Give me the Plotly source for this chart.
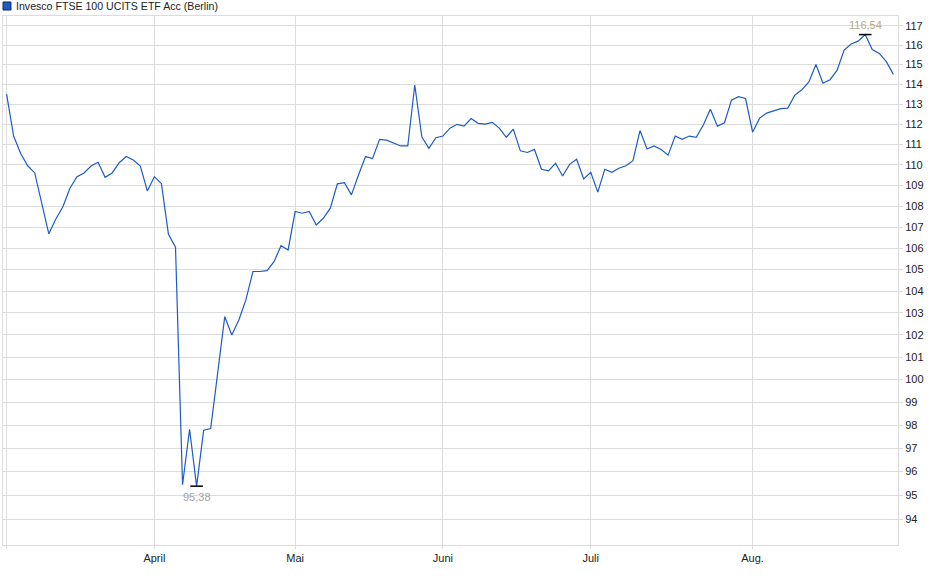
import numpy as np
import pandas as pd
import plotly.graph_objects as go

# trading days on the Berlin exchange, March - August 2025
start_date = "2025-03-03"
end_date = "2025-08-29"
holidays = ["2025-04-18", "2025-04-21", "2025-05-01"]

# closing prices, one per trading day
prices = [
    113.50, 111.41, 110.55, 109.95, 109.60, 108.15, 106.68, 107.38, 107.97, 108.86,
    109.42, 109.60, 109.94, 110.12, 109.39, 109.60, 110.10, 110.40, 110.23, 109.94,
    108.73, 109.42, 109.08, 106.66, 106.05, 95.44, 97.82, 95.38, 97.78, 97.85,
    100.28, 102.83, 102.00, 102.68, 103.60, 104.91, 104.91, 104.95, 105.37, 106.12,
    105.92, 107.74, 107.66, 107.74, 107.10, 107.42, 107.90, 109.07, 109.13, 108.54,
    109.50, 110.40, 110.30, 111.25, 111.21, 111.08, 110.92, 110.92, 113.96, 111.37,
    110.80, 111.33, 111.41, 111.80, 111.99, 111.90, 112.28, 112.04, 112.00, 112.09,
    111.80, 111.35, 111.75, 110.68, 110.60, 110.75, 109.78, 109.70, 110.07, 109.45,
    110.02, 110.27, 109.31, 109.63, 108.67, 109.78, 109.63, 109.83, 109.95, 110.20,
    111.68, 110.77, 110.92, 110.75, 110.47, 111.41, 111.25, 111.41, 111.35, 111.96,
    112.74, 111.90, 112.07, 113.20, 113.37, 113.28, 111.60, 112.30, 112.55, 112.66,
    112.77, 112.80, 113.45, 113.72, 114.12, 115.00, 114.05, 114.23, 114.70, 115.74,
    116.05, 116.20, 116.54, 115.77, 115.57, 115.15, 114.50,
]

month_names = ["April", "Mai", "Juni", "Juli", "Aug."]
y_ticks = list(range(94, 118))

days = pd.bdate_range(start_date, end_date)
days = days[~days.isin(pd.to_datetime(holidays))]
x_labels = [d.strftime("%Y-%m-%d") for d in days]

# first trading day of each month (March has no label)
first_days = pd.Series(days).groupby(days.to_period("M")).first()
tick_vals = [d.strftime("%Y-%m-%d") for d in first_days]
tick_text = [""] + month_names

i_min = int(np.argmin(prices))
i_max = int(np.argmax(prices))

fig = go.Figure()

fig.add_trace(go.Scatter(
    x=x_labels,
    y=prices,
    mode="lines",
    line=dict(color="#1c5cc4", width=1.2),
    showlegend=False,
    hoverinfo="x+y",
))

# low / high markers
fig.add_trace(go.Scatter(
    x=[x_labels[i_min], x_labels[i_max]],
    y=[prices[i_min], prices[i_max]],
    mode="markers",
    marker=dict(symbol="line-ew", size=9, line=dict(color="black", width=1.5)),
    showlegend=False,
    hoverinfo="skip",
))

fig.add_annotation(
    x=x_labels[i_min], y=np.log10(prices[i_min]),
    text=f"{prices[i_min]:.2f}".replace(".", ","),
    showarrow=False, yanchor="top", yshift=-3,
    font=dict(family="Liberation Sans, Arial", size=11, color="#a3a3a3"),
)
fig.add_annotation(
    x=x_labels[i_max], y=np.log10(prices[i_max]),
    text=f"{prices[i_max]:.2f}".replace(".", ","),
    showarrow=False, yanchor="bottom", yshift=2,
    font=dict(family="Liberation Sans, Arial", size=11, color="#b8a688"),
)

# legend entry drawn by hand (square + name)
fig.add_shape(
    type="rect", xref="paper", yref="paper",
    x0=0.0, x1=0.0089, y0=1.0113, y1=1.0265,
    fillcolor="#1c5cc4", line=dict(color="#0b2a66", width=1),
)
fig.add_annotation(
    xref="paper", yref="paper", x=0.0125, y=1.019,
    text="Invesco FTSE 100 UCITS ETF Acc (Berlin)",
    showarrow=False, xanchor="left", yanchor="middle",
    font=dict(family="Liberation Sans, Arial", size=10.6, color="#222222"),
)

fig.update_layout(
    width=940,
    height=579,
    margin=dict(l=3, r=42, t=16, b=34),
    paper_bgcolor="white",
    plot_bgcolor="white",
    font=dict(family="Liberation Sans, Arial", size=11, color="#222222"),
    xaxis=dict(
        type="category",
        range=[-0.51, len(prices) - 0.34],
        tickmode="array",
        tickvals=tick_vals,
        ticktext=tick_text,
        showgrid=True,
        gridcolor="#dcdcdc",
        gridwidth=1,
        ticks="outside",
        ticklen=3,
        tickcolor="#dcdcdc",
        showline=True,
        linecolor="#dcdcdc",
        mirror=True,
        zeroline=False,
        tickfont=dict(size=11, color="#222222"),
    ),
    yaxis=dict(
        type="log",
        side="right",
        range=[1.968119, 2.070055],
        tickmode="array",
        tickvals=y_ticks,
        ticktext=[str(v) for v in y_ticks],
        showgrid=True,
        gridcolor="#dcdcdc",
        gridwidth=1,
        ticks="outside",
        ticklen=4,
        tickcolor="#dcdcdc",
        showline=True,
        linecolor="#dcdcdc",
        mirror=True,
        zeroline=False,
        tickfont=dict(size=11, color="#222222"),
    ),
)

# drop the default page margin so the figure sits at the window's corner
fig.write_html(
    "out.html",
    config={"displayModeBar": False},
    post_script="document.body.style.margin='0';",
)
